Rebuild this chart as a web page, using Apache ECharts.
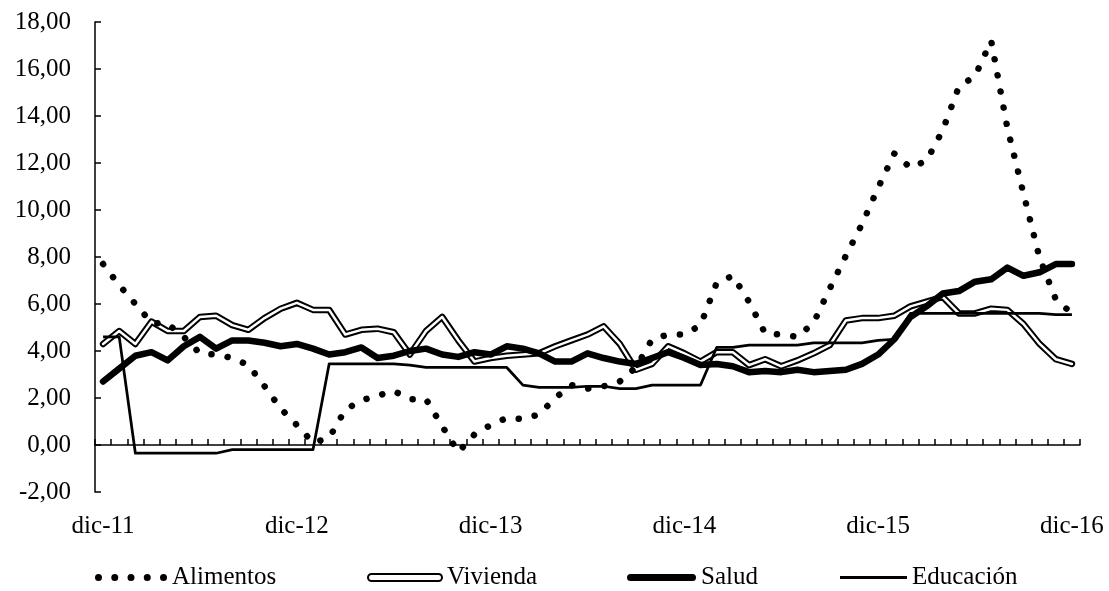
<!DOCTYPE html>
<html>
<head>
<meta charset="utf-8">
<script src="https://cdn.jsdelivr.net/npm/echarts@6/dist/echarts.min.js"></script>
<style>
  html, body { margin: 0; padding: 0; background: #fff; }
  #chart { width: 1109px; height: 591px; }
</style>
</head>
<body>
<div id="chart"></div>
<script>
const categories = [
  'dic-11',
  'ene-12','feb-12','mar-12','abr-12','may-12','jun-12','jul-12','ago-12','sep-12','oct-12','nov-12','dic-12',
  'ene-13','feb-13','mar-13','abr-13','may-13','jun-13','jul-13','ago-13','sep-13','oct-13','nov-13','dic-13',
  'ene-14','feb-14','mar-14','abr-14','may-14','jun-14','jul-14','ago-14','sep-14','oct-14','nov-14','dic-14',
  'ene-15','feb-15','mar-15','abr-15','may-15','jun-15','jul-15','ago-15','sep-15','oct-15','nov-15','dic-15',
  'ene-16','feb-16','mar-16','abr-16','may-16','jun-16','jul-16','ago-16','sep-16','oct-16','nov-16','dic-16'
];

const alimentos = [
  7.7,
  6.8, 6.0, 5.2, 5.15, 4.6, 3.9, 3.85, 3.7, 3.4, 2.5, 1.55, 0.85,
  0.1, 0.3, 1.5, 1.9, 2.1, 2.3, 1.95, 1.95, 0.8, -0.3, 0.45, 0.85,
  1.15, 1.1, 1.3, 2.0, 2.55, 2.4, 2.5, 2.7, 3.3, 4.5, 4.7, 4.7,
  5.1, 6.9, 7.2, 6.1, 4.75, 4.7, 4.6, 5.2, 6.65, 8.05, 9.4, 10.95,
  12.4, 11.8, 12.1, 13.4, 15.25, 15.7, 17.2, 13.5, 10.7, 7.95, 6.2, 5.6
];

const vivienda = [
  4.3,
  4.85, 4.3, 5.25, 4.85, 4.85, 5.45, 5.5, 5.1, 4.9, 5.4, 5.8, 6.05,
  5.75, 5.75, 4.7, 4.9, 4.95, 4.8, 3.85, 4.85, 5.45, 4.45, 3.55, 3.7,
  3.8, 3.85, 3.9, 4.2, 4.45, 4.7, 5.05, 4.3, 3.2, 3.45, 4.2, 3.9,
  3.55, 3.95, 3.95, 3.4, 3.65, 3.35, 3.6, 3.9, 4.25, 5.3, 5.4, 5.4,
  5.5, 5.9, 6.1, 6.3, 5.6, 5.6, 5.8, 5.75, 5.15, 4.3, 3.65, 3.45
];

const salud = [
  2.7,
  3.25, 3.8, 3.95, 3.6, 4.2, 4.6, 4.1, 4.45, 4.45, 4.35, 4.2, 4.3,
  4.1, 3.85, 3.95, 4.15, 3.7, 3.8, 4.0, 4.1, 3.85, 3.75, 3.95, 3.85,
  4.2, 4.1, 3.9, 3.55, 3.55, 3.9, 3.7, 3.55, 3.45, 3.7, 3.95, 3.7,
  3.4, 3.45, 3.35, 3.1, 3.15, 3.1, 3.2, 3.1, 3.15, 3.2, 3.45, 3.85,
  4.5, 5.45, 5.9, 6.45, 6.55, 6.95, 7.05, 7.55, 7.2, 7.35, 7.7, 7.7
];

const educacion = [
  4.6,
  4.6, -0.35, -0.35, -0.35, -0.35, -0.35, -0.35, -0.2, -0.2, -0.2, -0.2, -0.2,
  -0.2, 3.45, 3.45, 3.45, 3.45, 3.45, 3.4, 3.3, 3.3, 3.3, 3.3, 3.3,
  3.3, 2.55, 2.45, 2.45, 2.45, 2.5, 2.5, 2.4, 2.4, 2.55, 2.55, 2.55,
  2.55, 4.15, 4.15, 4.25, 4.25, 4.25, 4.25, 4.35, 4.35, 4.35, 4.35, 4.45,
  4.5, 5.6, 5.6, 5.6, 5.6, 5.6, 5.6, 5.6, 5.6, 5.6, 5.55, 5.55
];

const seriesNames = ['Alimentos', 'Vivienda', 'Salud', 'Educación'];

const FONT = '"Liberation Serif", "Times New Roman", serif';
const FS = 25;

const chart = echarts.init(document.getElementById('chart'), null, { renderer: 'canvas' });

function dotsPath() {
  let p = 'path://';
  for (let k = 0; k < 5; k++) {
    const cx = 3.5 + 16.25 * k;
    p += 'M' + (cx - 3.5) + ',3.5 A3.5,3.5 0 1 0 ' + (cx + 3.5) + ',3.5 A3.5,3.5 0 1 0 ' + (cx - 3.5) + ',3.5 Z ';
  }
  return p;
}
function pillPath(w) {
  return 'path://M3.5,0 L' + (w - 3.5) + ',0 A3.5,3.5 0 0 1 ' + (w - 3.5) + ',7 L3.5,7 A3.5,3.5 0 0 1 3.5,0 Z';
}

const legendBase = {
  orient: 'horizontal',
  top: 565,
  padding: 0,
  itemGap: 0,
  selectedMode: false,
  textStyle: { color: '#000', fontFamily: FONT, fontSize: FS }
};

const option = {
  animation: false,
  backgroundColor: '#fff',
  color: ['#000', '#000', '#000', '#000', '#000'],
  grid: { left: 95, right: 29, top: 22, bottom: 99, containLabel: false, outerBoundsMode: 'none' },
  legend: [
    Object.assign({}, legendBase, {
      left: 95, itemWidth: 72, itemHeight: 7,
      data: [{ name: seriesNames[0], icon: dotsPath(), itemStyle: { color: '#000', borderWidth: 0 } }]
    }),
    Object.assign({}, legendBase, {
      left: 367, itemWidth: 74, itemHeight: 7,
      data: [{ name: seriesNames[1], icon: pillPath(74), itemStyle: { color: '#fff', borderColor: '#000', borderWidth: 2 } }]
    }),
    Object.assign({}, legendBase, {
      left: 627, itemWidth: 69, itemHeight: 7,
      data: [{ name: seriesNames[2], icon: pillPath(69), itemStyle: { color: '#000', borderWidth: 0 } }]
    }),
    Object.assign({}, legendBase, {
      left: 840, itemWidth: 67, itemHeight: 3,
      data: [{ name: seriesNames[3], icon: 'rect', itemStyle: { color: '#000', borderWidth: 0 } }]
    })
  ],
  xAxis: [
    {
      type: 'category', data: categories, boundaryGap: true, position: 'bottom',
      axisLine: { show: true, onZero: true, lineStyle: { color: '#000', width: 1.5 } },
      axisTick: { show: true, inside: true, length: 6, interval: 0, lineStyle: { color: '#000', width: 1.5 } },
      axisLabel: { show: false },
      splitLine: { show: false }
    },
    {
      type: 'category', data: categories, boundaryGap: true, position: 'bottom',
      axisLine: { show: false, onZero: false },
      axisTick: { show: false },
      axisLabel: { show: true, interval: 11, margin: 22, color: '#000', fontFamily: FONT, fontSize: FS },
      splitLine: { show: false }
    }
  ],
  yAxis: {
    type: 'value', min: -2, max: 18, interval: 2,
    axisLine: { show: true, onZero: false, lineStyle: { color: '#000', width: 1.5 } },
    axisTick: { show: true, inside: true, length: 6, lineStyle: { color: '#000', width: 1.5 } },
    axisLabel: {
      margin: 24, color: '#000', fontFamily: FONT, fontSize: FS,
      formatter: function (v) { return v.toFixed(2).replace('.', ','); }
    },
    splitLine: { show: false }
  },
  series: [
    {
      name: seriesNames[1], type: 'line', data: vivienda, symbol: 'none', z: 2,
      itemStyle: { color: '#000' },
      lineStyle: { color: '#000', width: 6.5, join: 'round', cap: 'round' }
    },
    {
      name: 'Vivienda_interior', type: 'line', data: vivienda, symbol: 'none', z: 3, silent: true,
      itemStyle: { color: '#fff' },
      lineStyle: { color: '#fff', width: 2.5, join: 'round', cap: 'round' }
    },
    {
      name: seriesNames[2], type: 'line', data: salud, symbol: 'none', z: 4,
      itemStyle: { color: '#000' },
      lineStyle: { color: '#000', width: 6.5, join: 'round', cap: 'round' }
    },
    {
      name: seriesNames[3], type: 'line', data: educacion, symbol: 'none', z: 4,
      itemStyle: { color: '#000' },
      lineStyle: { color: '#000', width: 2.75, join: 'round' }
    },
    {
      name: seriesNames[0], type: 'line', data: alimentos, symbol: 'none', z: 5,
      itemStyle: { color: '#000' },
      lineStyle: { color: '#000', width: 6.5, type: [0.1, 16.3], cap: 'round', join: 'round' }
    }
  ]
};

chart.setOption(option);
</script>
</body>
</html>
